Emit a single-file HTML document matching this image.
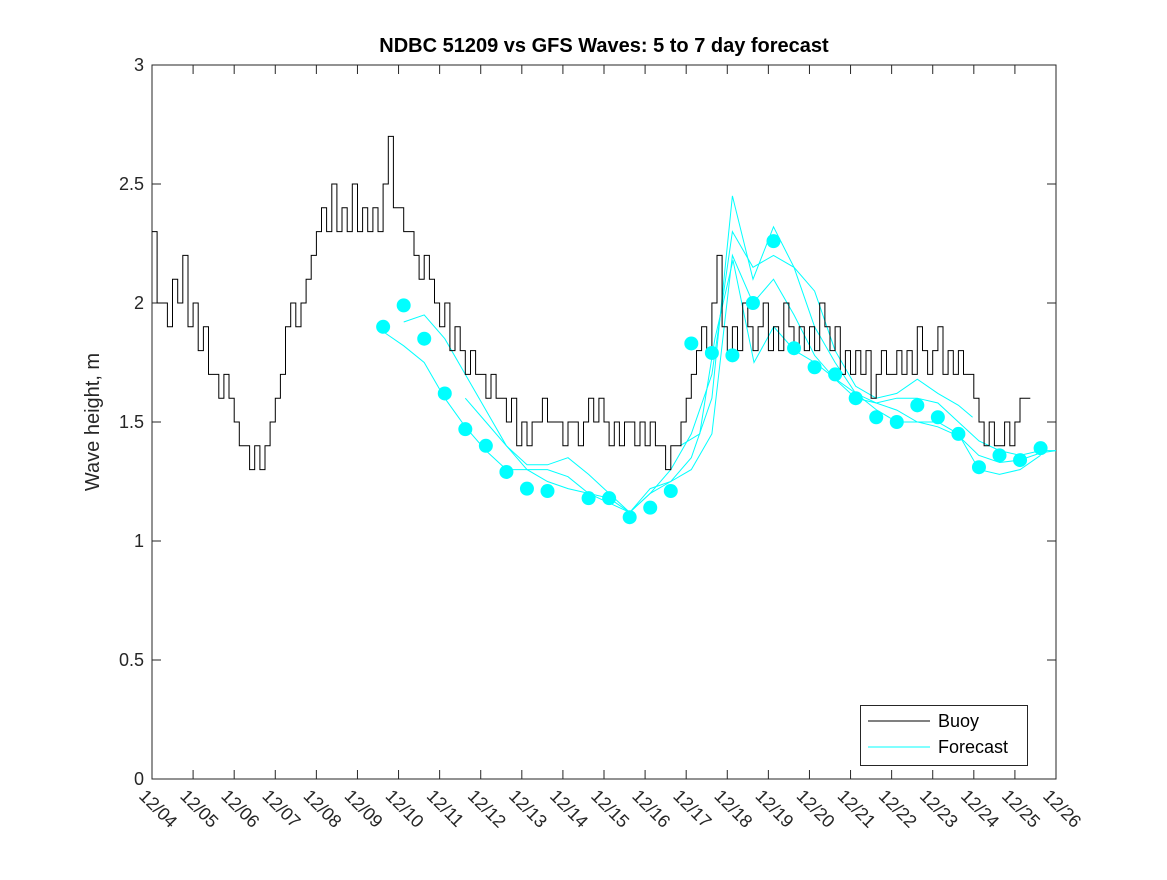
<!DOCTYPE html>
<html><head><meta charset="utf-8"><style>
body{margin:0;background:#fff;}
svg text{font-family:"Liberation Sans",sans-serif;}
</style></head><body>
<svg id="chart" width="1167" height="875">
<rect x="0" y="0" width="1167" height="875" fill="#fff"/>
<g id="plot"></g>
</svg>
<script>
const buoyStart = 0;
const buoyStep = 0.125;
const buoyValues = [2.3,2.0,2.0,1.9,2.1,2.0,2.2,1.9,
2.0,1.8,1.9,1.7,1.7,1.6,1.7,1.6,
1.5,1.4,1.4,1.3,1.4,1.3,1.4,1.5,
1.6,1.7,1.9,2.0,1.9,2.0,2.1,2.2,
2.3,2.4,2.3,2.5,2.3,2.4,2.3,2.5,
2.3,2.4,2.3,2.4,2.3,2.5,2.7,2.4,
2.4,2.3,2.3,2.2,2.1,2.2,2.1,2.0,
1.9,2.0,1.8,1.9,1.8,1.7,1.8,1.7,
1.7,1.6,1.7,1.6,1.6,1.5,1.6,1.4,
1.5,1.4,1.5,1.5,1.6,1.5,1.5,1.5,
1.4,1.5,1.5,1.4,1.5,1.6,1.5,1.6,
1.5,1.4,1.5,1.4,1.5,1.5,1.4,1.5,
1.4,1.5,1.4,1.4,1.3,1.4,1.4,1.5,
1.6,1.7,1.8,1.9,1.8,2.0,2.2,1.9,
1.8,1.9,1.8,2.0,1.9,1.8,1.9,2.0,
1.8,1.9,1.8,2.0,1.9,1.8,1.9,1.8,
1.9,1.8,2.0,1.9,1.8,1.9,1.7,1.8,
1.7,1.8,1.7,1.8,1.6,1.7,1.8,1.7,
1.7,1.8,1.7,1.8,1.7,1.9,1.8,1.7,
1.8,1.9,1.7,1.8,1.7,1.8,1.7,1.7,
1.6,1.5,1.4,1.5,1.4,1.4,1.5,1.4,
1.5,1.6,1.6];
const dotTimes = [5.625,6.125,6.625,7.125,7.625,8.125,8.625,9.125,9.625,10.625,11.125,11.625,12.125,12.625,13.125,13.625,14.125,14.625,15.125,15.625,16.125,16.625,17.125,17.625,18.125,18.625,19.125,19.625,20.125,20.625,21.125,21.625];
const dotValues = [1.90,1.99,1.85,1.62,1.47,1.40,1.29,1.22,1.21,1.18,1.18,1.10,1.14,1.21,1.83,1.79,1.78,2.00,2.26,1.81,1.73,1.70,1.60,1.52,1.50,1.57,1.52,1.45,1.31,1.36,1.34,1.39];
const lineATimes = [6.125,6.625,7.125,7.625,8.125,8.625,9.125,9.625,10.125,10.625,11.125,11.625,12.125,12.625,13.125,13.625,14.125,14.625,15.125,15.625,16.125,16.625,17.125,17.625,18.125,18.625,19.125,19.625,19.97];
const lineAValues = [1.92,1.95,1.85,1.70,1.55,1.40,1.32,1.32,1.35,1.28,1.20,1.12,1.20,1.30,1.45,1.70,2.30,2.15,2.20,2.15,2.05,1.80,1.65,1.60,1.62,1.68,1.62,1.57,1.52];
const lineBTimes = [5.625,6.125,6.625,7.125,7.625,8.125,8.625,9.125,9.625,10.125,10.625,11.125,11.625,12.125,12.625,13.125,13.625,14.125,14.625,15.125,15.625,16.125,16.625,17.125,17.625,18.125,18.625,19.125,19.625,20.125,20.625,21.125,21.625,22];
const lineBValues = [1.88,1.82,1.75,1.60,1.48,1.38,1.30,1.30,1.30,1.27,1.20,1.16,1.12,1.22,1.25,1.35,1.60,2.45,2.10,2.32,2.15,1.90,1.75,1.62,1.58,1.60,1.60,1.58,1.50,1.42,1.38,1.36,1.38,1.38];
const lineCTimes = [7.625,8.125,8.625,9.125,9.625,10.125,10.625,11.125,11.625,12.125,12.625,13.125,13.625,14.125,14.625,15.125,15.625,16.125,16.625,17.125,17.625,18.125,18.625,19.125,19.625,20.125,20.625,21.125,21.625];
const lineCValues = [1.60,1.50,1.40,1.30,1.25,1.22,1.20,1.18,1.12,1.20,1.25,1.30,1.45,2.20,2.00,2.10,1.95,1.78,1.68,1.60,1.58,1.55,1.50,1.50,1.45,1.30,1.28,1.30,1.36];
const lineDTimes = [12.85,13.33,13.70,14.14,14.65,15.13,15.64,16.13,16.64,17.13,17.64,18.13,18.64,19.12,19.64,20.12,20.63,21.12,21.63,22];
const lineDValues = [1.40,1.45,1.85,2.18,1.75,1.90,1.80,1.75,1.68,1.62,1.55,1.50,1.50,1.48,1.44,1.36,1.33,1.34,1.37,1.38];
const xTickLabels = ["12/04","12/05","12/06","12/07","12/08","12/09","12/10","12/11","12/12","12/13","12/14","12/15","12/16","12/17","12/18","12/19","12/20","12/21","12/22","12/23","12/24","12/25","12/26"];
const yTicks = [0,0.5,1,1.5,2,2.5,3];
const yTickLabels = ["0","0.5","1","1.5","2","2.5","3"];

const L=152,R=1056,T=65,B=779;
const xS=d=>L+(d/22)*(R-L);
const yS=v=>B-(v/3)*(B-T);
const NS="http://www.w3.org/2000/svg";
const g=document.getElementById('plot');
function mk(tag,attrs,parent){const e=document.createElementNS(NS,tag);for(const k in attrs)e.setAttribute(k,attrs[k]);(parent||g).appendChild(e);return e;}

const box=mk('rect',{x:L,y:T,width:R-L,height:B-T,fill:'none',stroke:'#262626','stroke-width':1});



yTicks.forEach((v,i)=>{
  const y=yS(v);
  mk('line',{x1:L,y1:y,x2:L+9,y2:y,stroke:'#262626'});
  mk('line',{x1:R,y1:y,x2:R-9,y2:y,stroke:'#262626'});
  const t=mk('text',{x:L-8,y:y+6,'text-anchor':'end','font-size':18,fill:'#262626'});
  t.textContent=yTickLabels[i];
  
  
});
xTickLabels.forEach((lab,i)=>{
  const x=xS(i);
  mk('line',{x1:x,y1:B,x2:x,y2:B-9,stroke:'#262626'});
  mk('line',{x1:x,y1:T,x2:x,y2:T+9,stroke:'#262626'});
  const t=mk('text',{x:x-14,y:B+18,'font-size':18,fill:'#262626',transform:`rotate(45 ${x-14} ${B+18})`});
  t.textContent=lab;
  
  
});

[[lineATimes,lineAValues],[lineBTimes,lineBValues],[lineCTimes,lineCValues],[lineDTimes,lineDValues]].forEach((s,k)=>{
  const p=s[0].map((t,i)=>xS(t).toFixed(1)+','+yS(s[1][i]).toFixed(1)).join(' ');
  const pl=mk('polyline',{points:p,fill:'none',stroke:'#00ffff','stroke-width':1});
  
  
});

let pts=[];
buoyValues.forEach((v,i)=>{
  const x0=xS(buoyStart+i*buoyStep), x1=xS(buoyStart+(i+1)*buoyStep);
  pts.push(x0.toFixed(1)+','+yS(v).toFixed(1));
  pts.push(x1.toFixed(1)+','+yS(v).toFixed(1));
});
const bl=mk('polyline',{points:pts.join(' '),fill:'none',stroke:'#000','stroke-width':1});



dotTimes.forEach((t,i)=>{
  const c=mk('circle',{cx:xS(t),cy:yS(dotValues[i]),r:7,fill:'#00ffff'});
  
  
});
</script>
<svg width="1167" height="875" style="position:absolute;left:0;top:0">
<text x="604" y="52" text-anchor="middle" font-size="20" font-weight="bold" fill="#000">NDBC 51209 vs GFS Waves: 5 to 7 day forecast</text>
<text x="99" y="422" text-anchor="middle" font-size="20" fill="#262626" transform="rotate(-90 99 422)">Wave height, m</text>
<g>
<rect x="860.5" y="705.5" width="167" height="60" fill="#fff" stroke="#262626"/>
<line x1="868" y1="721" x2="930" y2="721" stroke="#000"/>
<text x="938" y="727" font-size="18" fill="#000">Buoy</text>
<line x1="868" y1="747" x2="930" y2="747" stroke="#00ffff"/>
<text x="938" y="753" font-size="18" fill="#000">Forecast</text>
</g>
</svg>
</body></html>
